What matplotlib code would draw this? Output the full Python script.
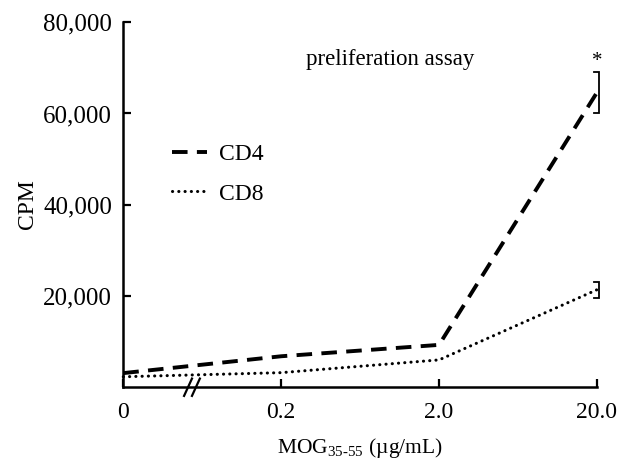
import matplotlib
matplotlib.use('Agg')
import matplotlib.pyplot as plt

plt.rcParams['font.family'] = ['Liberation Serif', 'DejaVu Serif']
plt.rcParams['mathtext.fontset'] = 'custom'
plt.rcParams['mathtext.rm'] = 'Liberation Serif'

# data
doses = ['0', '0.2', '2.0', '20.0']
cd4 = [3000, 6700, 9200, 64600]
cd4_err = [0, 0, 0, 4400]
cd8 = [2200, 3100, 5900, 21300]
cd8_err = [0, 0, 0, 1750]
y_ticks = [20000, 40000, 60000, 80000]
y_labels = ['20,000', '40,000', '60,000', '80,000']


def bracket(ax, xs, ys, errs, w=0.035, dx=0.015):
    # error bars drawn as "]" like in the original
    for x, y, e in zip(xs, ys, errs):
        if e <= 0:
            continue
        ax.plot([x + dx - w, x + dx, x + dx, x + dx - w], [y - e, y - e, y + e, y + e],
                color='black', lw=1.3, clip_on=False, solid_joinstyle='miter')


fig = plt.figure(figsize=(6.29, 4.66), dpi=100)
ax = fig.add_axes([0.196, 0.170, 0.753, 0.782])

x = list(range(len(doses)))
ax.plot(x, cd4, color='black', lw=2.8, linestyle=(0, (4.0, 2.4)), dash_capstyle='butt',
        label='CD4', clip_on=False)
ax.plot(x, cd8, color='black', lw=2.2, linestyle=(0, (0.05, 2.0)), dash_capstyle='round',
        label='CD8', clip_on=False)
bracket(ax, x, cd4, cd4_err)
bracket(ax, x, cd8, cd8_err)

ax.text(3, 71300, '*', ha='center', va='center', fontsize=15)
ax.text(1.69, 71900, 'preliferation assay', ha='center', va='center', fontsize=16.5)

ax.set_xlim(0, 3)
ax.set_ylim(0, 80000)
ax.set_xticks(x)
ax.set_xticklabels(doses, fontsize=17)
ax.set_yticks(y_ticks)
ax.set_yticklabels(y_labels, fontsize=18)
ax.tick_params(axis='both', direction='in', length=6, width=1.6, pad=8)
ax.tick_params(axis='x', pad=11)

for side in ['top', 'right']:
    ax.spines[side].set_visible(False)
for side in ['left', 'bottom']:
    ax.spines[side].set_linewidth(1.8)

# axis break mark
for off in (-0.025, 0.025):
    ax.plot([0.41 + off, 0.46 + off], [-2000, 1800], color='black', lw=1.6,
            clip_on=False)

ax.set_ylabel('CPM', fontsize=17, labelpad=4)
ax.set_xlabel('MOG$_{\\mathregular{35\N{HYPHEN}55}}$ (\u00b5g/mL)', fontsize=15.5, labelpad=9)

ax.legend(loc='upper left', bbox_to_anchor=(0.058, 0.725), frameon=False, fontsize=17,
          handlelength=1.5, handletextpad=0.5, labelspacing=0.75)

fig.savefig('out.png', dpi=100)
